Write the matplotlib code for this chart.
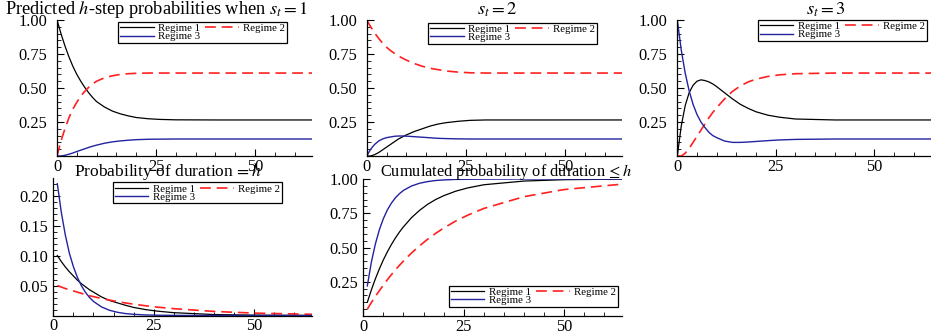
import matplotlib
matplotlib.use('Agg')
import matplotlib.pyplot as plt
from matplotlib.ticker import MultipleLocator, FixedLocator

plt.rcParams['font.family'] = ['Liberation Serif', 'DejaVu Serif']
plt.rcParams['mathtext.fontset'] = 'stix'

# horizons h for the predicted probabilities
hSteps = [0, 1, 2, 3, 4, 5, 6, 7, 8, 9, 10, 12, 14, 16, 18, 20, 23, 26, 30, 40, 50, 65]

# start in regime 1
from1Reg1 = [1.00, .90, .81, .73, .66, .60, .55, .505, .465, .43, .40, .36, .33, .31, .295, .283, .274, .269, .266, .265, .265, .265]
from1Reg2 = [0, .11, .20, .28, .345, .395, .44, .475, .505, .53, .55, .575, .59, .60, .605, .608, .61, .61, .61, .61, .61, .61]
from1Reg3 = [0, 0, .005, .013, .022, .033, .043, .053, .063, .072, .080, .094, .104, .111, .116, .12, .123, .124, .125, .125, .125, .125]

# start in regime 2
from2Reg1 = [0, 0, .01, .025, .045, .065, .085, .105, .125, .14, .155, .18, .20, .22, .235, .245, .255, .262, .265, .265, .265, .265]
from2Reg2 = [1.00, .95, .905, .865, .83, .80, .775, .755, .735, .72, .705, .68, .66, .645, .635, .625, .617, .612, .61, .61, .61, .61]
from2Reg3 = [0, .05, .085, .11, .125, .135, .14, .145, .147, .147, .146, .142, .138, .134, .13, .128, .126, .125, .125, .125, .125, .125]

# start in regime 3
from3Reg1 = [0, .22, .37, .465, .52, .55, .56, .555, .545, .53, .51, .465, .42, .38, .35, .325, .30, .285, .272, .265, .265, .265]
from3Reg2 = [0, 0, .02, .055, .10, .145, .19, .235, .28, .32, .355, .42, .475, .515, .545, .565, .585, .597, .605, .61, .61, .61]
from3Reg3 = [1.00, .78, .61, .48, .38, .305, .25, .21, .175, .15, .135, .11, .10, .10, .103, .107, .113, .118, .122, .125, .125, .125]

# durations
durSteps = [1, 2, 3, 4, 5, 6, 7, 8, 9, 10, 12, 14, 16, 18, 20, 23, 26, 30, 40, 50, 65]
dur1 = [.10, .09, .081, .073, .066, .059, .053, .048, .043, .039, .031, .025, .021, .017, .0135, .0098, .0072, .0047, .0016, .0006, .0001]
dur2 = [.05, .0475, .045, .043, .041, .039, .037, .035, .033, .0315, .0284, .0257, .0232, .0209, .0189, .0162, .0139, .0114, .0068, .0040, .0019]
dur3 = [.22, .172, .134, .104, .0815, .0636, .0496, .0387, .0302, .0235, .0143, .0087, .0053, .0032, .0020, .0009, .0005, .0002, 0, 0, 0]
cum1 = [.10, .19, .271, .344, .41, .469, .522, .57, .613, .651, .718, .771, .815, .85, .878, .911, .935, .958, .985, .995, .999]
cum2 = [.05, .098, .143, .185, .226, .265, .302, .337, .37, .401, .46, .512, .56, .603, .642, .693, .736, .785, .871, .923, .964]
cum3 = [.22, .392, .525, .630, .711, .775, .824, .863, .893, .917, .949, .969, .981, .989, .993, .997, .998, .999, 1, 1, 1]

regimeNames = ['Regime 1', 'Regime 2', 'Regime 3']

W, H = 931, 333
BLUE = '#2323a0'
RED = '#ff2020'


def px(x, y):
    return x / W, 1 - y / H


def makeAxes(fig, left, top, right, bottom):
    x0, y1 = px(left, top)
    x1, y0 = px(right, bottom)
    return fig.add_axes([x0, y0, x1 - x0, y1 - y0])


def drawPanel(ax, x, s1, s2, s3, legendAt, ymax, ystep, yminor, labelPad):
    l1, = ax.plot(x, s1, color='black', lw=0.9)
    l2, = ax.plot(x, s2, color=RED, lw=1.2, ls=(0, (6.5, 3.5)))
    l3, = ax.plot(x, s3, color=BLUE, lw=1.0)
    ax.set_xlim(0, 64.4)
    ax.set_ylim(0, ymax)
    for side in ['top', 'right']:
        ax.spines[side].set_visible(False)
    for side in ['left', 'bottom']:
        ax.spines[side].set_linewidth(0.9)
    ax.xaxis.set_major_locator(FixedLocator([0, 25, 50]))
    ax.xaxis.set_minor_locator(MultipleLocator(5))
    yt = [ystep * i for i in range(1, 5)]
    ax.yaxis.set_major_locator(FixedLocator(yt))
    ax.yaxis.set_minor_locator(MultipleLocator(yminor))
    ax.set_yticklabels(['%.2f' % v for v in yt])
    ax.tick_params(which='major', direction='in', length=5, width=0.8, labelsize=11.8)
    ax.tick_params(which='minor', direction='in', length=3, width=0.6)
    ax.tick_params(axis='x', pad=2)
    ax.tick_params(axis='y', pad=labelPad)

    # column-major fill: R1, R3 in first column, R2 in second
    lx, ly = px(*legendAt)
    leg = ax.legend([l1, l3, l2], [regimeNames[0], regimeNames[2], regimeNames[1]],
                    ncol=2, loc='upper right',
                    bbox_to_anchor=(lx, ly), bbox_transform=ax.figure.transFigure,
                    fontsize=7.8, frameon=True, fancybox=False, framealpha=1,
                    edgecolor='black', handlelength=3.1, handletextpad=0.4,
                    columnspacing=0.5, labelspacing=-0.12, borderpad=0.15,
                    borderaxespad=0)
    leg.get_frame().set_linewidth(0.9)


def main():
    fig = plt.figure(figsize=(W / 100, H / 100), dpi=100)

    ax1 = makeAxes(fig, 57, 20, 312, 156)
    drawPanel(ax1, hSteps, from1Reg1, from1Reg2, from1Reg3, (287, 22), 1.0, 0.25, 0.05, 7)
    ax2 = makeAxes(fig, 366.7, 20, 622, 156)
    drawPanel(ax2, hSteps, from2Reg1, from2Reg2, from2Reg3, (597, 22.7), 1.0, 0.25, 0.05, 7)
    ax3 = makeAxes(fig, 677.3, 20, 931, 156)
    drawPanel(ax3, hSteps, from3Reg1, from3Reg2, from3Reg3, (926.7, 20), 1.0, 0.25, 0.05, 7)
    ax4 = makeAxes(fig, 53.3, 178.3, 312, 315.5)
    drawPanel(ax4, durSteps, dur1, dur2, dur3, (281.7, 182.3), 0.229, 0.05, 0.01, 3.5)
    ax5 = makeAxes(fig, 363.3, 179, 622, 316)
    drawPanel(ax5, durSteps, cum1, cum2, cum3, (617.7, 285.7), 1.0, 0.25, 0.05, 3.5)

    titles = [
        (157, 14.5, 'Predicted $h$-step probabilities when $s_t = 1$', 13.2),
        (497, 14.5, '$s_t = 2$', 13.2),
        (826, 14.5, '$s_t = 3$', 13.2),
        (168, 176.5, 'Probability of duration$\\,=h$', 12.5),
        (506, 176.5, 'Cumulated probability of duration$\\,\\leq h$', 11.8),
    ]
    for x, y, t, size in titles:
        fx, fy = px(x, y)
        fig.text(fx, fy, t, ha='center', va='baseline', fontsize=size)

    fig.savefig('out.png', dpi=100)


if __name__ == '__main__':
    main()
